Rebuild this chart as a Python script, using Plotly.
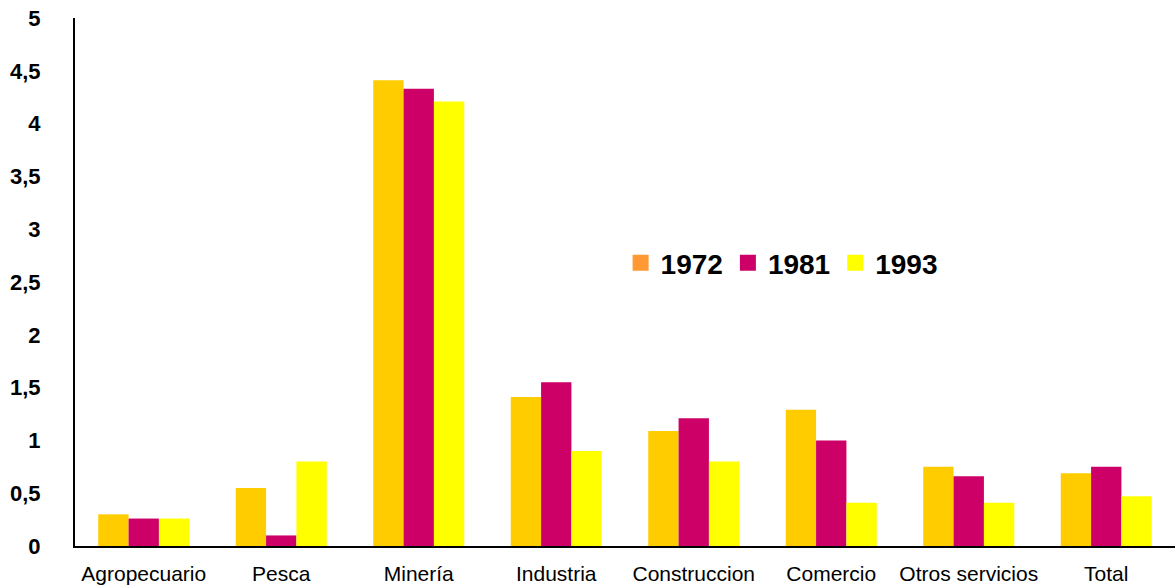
import plotly.graph_objects as go

categories = ["Agropecuario", "Pesca", "Minería", "Industria", "Construccion",
              "Comercio", "Otros servicios", "Total"]
v1972 = [0.30, 0.55, 4.41, 1.41, 1.09, 1.29, 0.75, 0.69]
v1981 = [0.26, 0.10, 4.33, 1.55, 1.21, 1.00, 0.66, 0.75]
v1993 = [0.26, 0.80, 4.21, 0.90, 0.80, 0.41, 0.41, 0.47]
series_names = ["1972", "1981", "1993"]
bar_colors = ["#FFCC00", "#CC0066", "#FFFF00"]
legend_colors = ["#FF9933", "#CC0066", "#FFFF00"]

fig = go.Figure()
for name, vals, col in zip(series_names, [v1972, v1981, v1993], bar_colors):
    fig.add_trace(go.Bar(x=categories, y=vals, name=name, marker_color=col,
                         marker_line_width=0, showlegend=False))
for name, col in zip(series_names, legend_colors):
    fig.add_trace(go.Scatter(x=[None], y=[None], mode="markers", name=name,
                             marker=dict(symbol="square", size=20, color=col)))

fig.update_layout(
    width=1175, height=586,
    margin=dict(l=75, r=0, t=18, b=40),
    paper_bgcolor="white", plot_bgcolor="white",
    separators=",.",
    barmode="group", bargap=0.338, bargroupgap=0,
    font=dict(family="Liberation Sans", color="black"),
    showlegend=True,
    legend=dict(orientation="h", x=0.496, xanchor="left", y=0.536, yanchor="middle",
                font=dict(size=28, weight="bold", family="Liberation Sans"),
                bgcolor="rgba(0,0,0,0)", itemclick=False),
    xaxis=dict(showline=True, linecolor="black", linewidth=2, showgrid=False,
               ticks="", tickfont=dict(size=21), ticklabelstandoff=8, automargin=False),
    yaxis=dict(range=[0, 5], dtick=0.5, showline=True, linecolor="black", linewidth=2,
               showgrid=False, zeroline=False, ticks="", automargin=False,
               tickfont=dict(size=22, weight="bold"), ticklabelstandoff=28),
)

fig.write_html("out.html", config={"displayModeBar": False},
               post_script="document.body.style.margin='0';document.body.style.overflow='hidden';")
